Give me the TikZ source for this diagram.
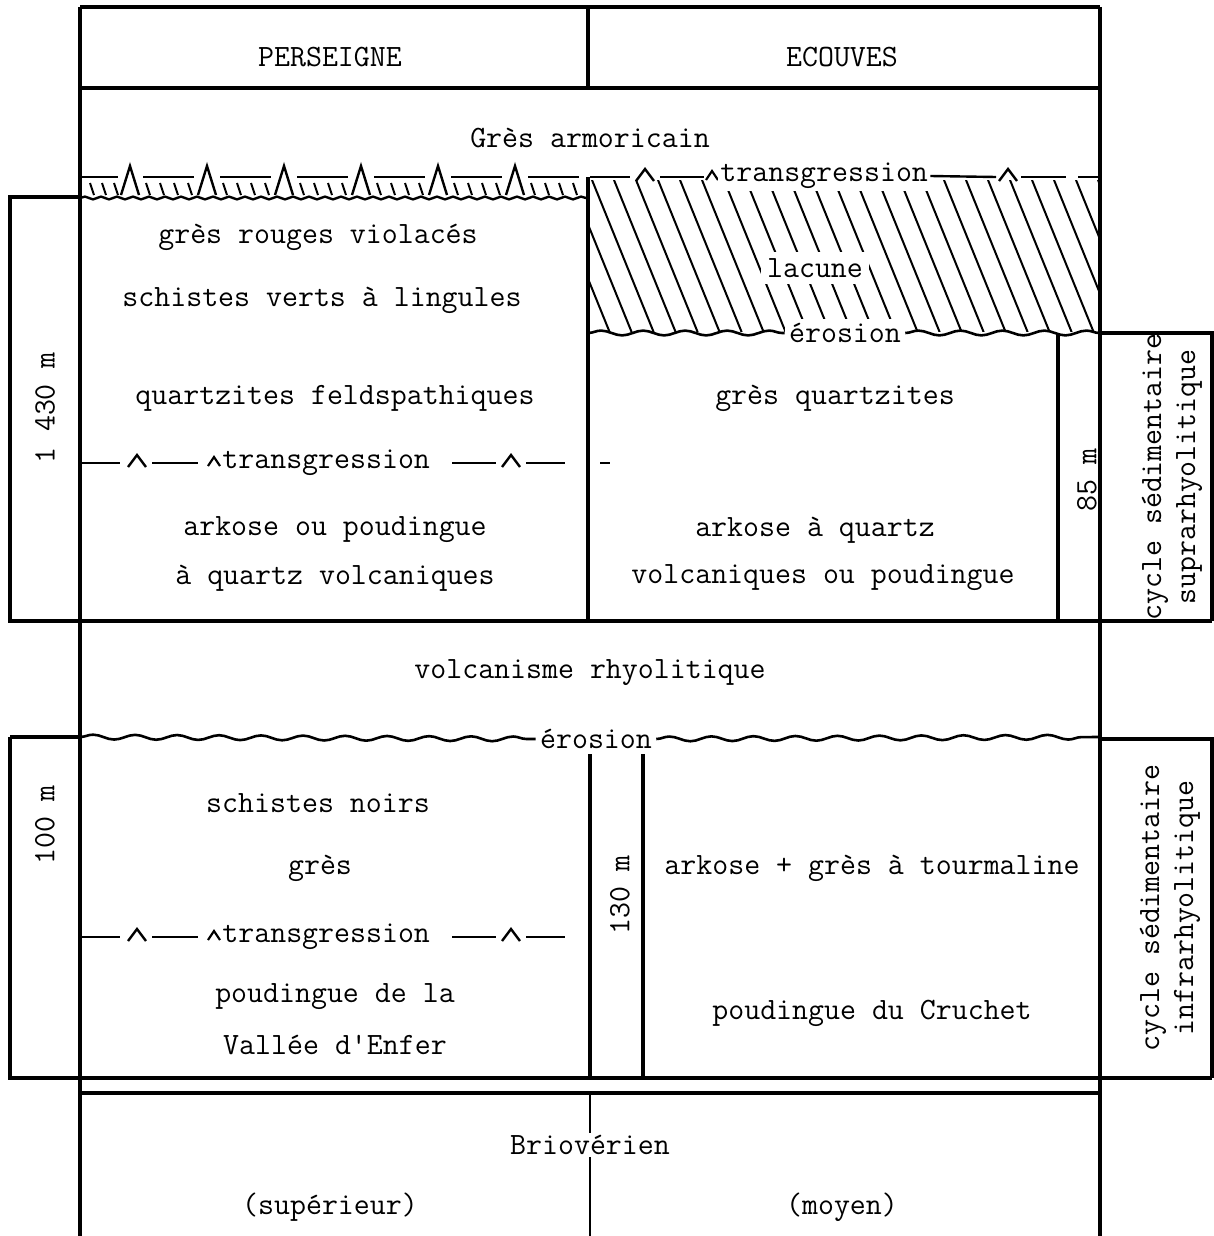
\documentclass[tikz,border=0pt]{standalone}
\usepackage{fontspec}
\usetikzlibrary{decorations.pathmorphing}

\begin{document}
\begin{tikzpicture}[x=0.5pt,y=-0.5pt,
    frame/.style={line width=1.6pt},
    thin/.style={line width=1.2pt},
    hatch/.style={line width=1pt},
    wave/.style={line width=1.3pt,decorate,decoration={snake,amplitude=1.2pt,segment length=21pt}},
    finewave/.style={line width=1.2pt,decorate,decoration={snake,amplitude=0.7pt,segment length=8pt}},
    txt/.style={font=\fontsize{15.5}{17}\selectfont\ttfamily,inner sep=1pt},
    lbl/.style={txt,fill=white,inner sep=3pt},
    vtxt/.style={txt,rotate=90,align=center},
    chev/.pic={\draw[line width=1.2pt] (-9,4) -- (0,-8) -- (9,4);},
    smallchev/.pic={\draw[line width=1.1pt] (-6,3) -- (0,-6) -- (6,3);},
    tallchev/.pic={\draw[line width=1.2pt] (-9,18) -- (0,-11) -- (9,18);}]
  \useasboundingbox (0,0) rectangle (1214,1236);

  % main frame and header
  \draw[frame] (80,7) -- (1100,7);
  \draw[frame] (80,7) -- (80,1236);
  \draw[frame] (1100,7) -- (1100,1236);
  \draw[frame] (80,88) -- (1100,88);
  \draw[frame] (588,7) -- (588,88);
  \node[txt] (pers) at (330,57) {PERSEIGNE};
  \node[txt] (ecou) at (842,57) {ECOUVES};
  \node[txt] (armo) at (590,138) {Grès armoricain};

  % upper transgression, Perseigne side
  \draw[thin] (82,177) -- (118,177);
  \foreach \c in {130,207,284,361,438,515} {
    \pic at (\c,177) {tallchev};
    \draw[thin] (\c+13,177) -- (\c+64,177);
    \foreach \d in {18,32,46,60}
      \draw[hatch] (\c+\d-2,183) -- (\c+\d+2,195);
  }
  \foreach \x in {92,104,116}
    \draw[hatch] (\x-2,183) -- (\x+2,195);
  \draw[finewave] (80,198) -- (588,198);

  % lacune, Ecouves side
  \begin{scope}
    \clip (588,180) rectangle (1100,331);
    \foreach \x in {548,570,...,1100}
      \draw[hatch] (\x,180) -- (\x+62,333);
  \end{scope}
  \draw[thin] (590,177) -- (630,177);
  \pic at (645,177) {chev};
  \draw[thin] (660,177) -- (704,177);
  \pic at (712,177) {smallchev};
  \node[lbl,inner sep=1pt,anchor=west] (trA) at (718,176) {transgression};
  \draw[thin] (trA.east) -- (996,177);
  \pic at (1008,177) {chev};
  \draw[thin] (1021,177) -- (1066,177);
  \draw[thin] (1078,177) -- (1100,177);
  \node[lbl] (lac) at (815,268) {lacune};
  \node[lbl,inner sep=2pt] (eroA) at (845,333) {érosion};
  \draw[wave] (588,333) -- (eroA.west);
  \draw[wave] (eroA.east) -- (1100,333);

  % upper boxes
  \draw[frame] (80,197) -- (10,197) -- (10,621) -- (1212,621);
  \draw[frame] (588,177) -- (588,621);
  \draw[frame] (1058,333) -- (1058,621);
  \draw[frame] (1100,333) -- (1212,333) -- (1212,621);

  \node[txt] (gr) at (318,237) {grès rouges violacés};
  \node[txt] (sv) at (322,300) {schistes verts à lingules};
  \node[txt] (qf) at (335,398) {quartzites feldspathiques};
  \node[txt] (ak1) at (335,530) {arkose ou poudingue};
  \node[txt] (ak2) at (335,578) {à quartz volcaniques};
  \node[txt] (gq) at (835,398) {grès quartzites};
  \node[txt] (ak3) at (815,530) {arkose à quartz};
  \node[txt] (ak4) at (823,578) {volcaniques ou poudingue};
  \node[vtxt] (h1) at (45,408) {1 430 m};
  \node[vtxt] (h2) at (1087,480) {85 m};
  \node[vtxt] (cyc1) at (1172,477) {cycle sédimentaire\\suprarhyolitique};

  % middle transgression
  \draw[thin] (82,463) -- (120,463);
  \pic at (137,463) {chev};
  \draw[thin] (152,463) -- (198,463);
  \pic at (214,463) {smallchev};
  \node[txt,anchor=west] (trB) at (220,463) {transgression};
  \draw[thin] (452,463) -- (496,463);
  \pic at (511,463) {chev};
  \draw[thin] (526,463) -- (565,463);
  \draw[thin] (600,463) -- (610,463);

  \node[txt] (volc) at (590,673) {volcanisme rhyolitique};

  % lower section
  \node[lbl,inner sep=2pt] (eroB) at (596,739) {érosion};
  \draw[frame] (10,737) -- (80,737);
  \draw[wave] (80,737) -- (eroB.west);
  \draw[wave] (eroB.east) -- (1100,737);
  \draw[frame] (1100,739) -- (1212,739) -- (1212,1078);
  \draw[frame] (10,737) -- (10,1078) -- (1212,1078);
  \draw[frame] (590,754) -- (590,1078);
  \draw[frame] (643,754) -- (643,1078);

  \node[txt] (sn) at (318,803) {schistes noirs};
  \node[txt] (gs) at (320,868) {grès};
  \node[txt] (pv1) at (335,997) {poudingue de la};
  \node[txt] (pv2) at (335,1045) {Vallée d'Enfer};
  \node[txt] (at) at (872,868) {arkose + grès à tourmaline};
  \node[txt] (pc) at (872,1013) {poudingue du Cruchet};
  \node[vtxt] (h3) at (45,825) {100 m};
  \node[vtxt] (h4) at (620,895) {130 m};
  \node[vtxt] (cyc2) at (1170,908) {cycle sédimentaire\\infrarhyolitique};

  % lower transgression
  \draw[thin] (82,937) -- (120,937);
  \pic at (137,937) {chev};
  \draw[thin] (152,937) -- (198,937);
  \pic at (214,937) {smallchev};
  \node[txt,anchor=west] (trC) at (220,937) {transgression};
  \draw[thin] (452,937) -- (496,937);
  \pic at (511,937) {chev};
  \draw[thin] (526,937) -- (565,937);

  % Briovérien
  \draw[frame] (80,1093) -- (1100,1093);
  \node[txt] (brio) at (590,1145) {Briovérien};
  \node[txt] (sup) at (330,1207) {(supérieur)};
  \node[txt] (moy) at (842,1207) {(moyen)};
  \draw[thin] (590,1093) -- (brio.north);
  \draw[thin] (brio.south) -- (590,1236);
\end{tikzpicture}
\end{document}
